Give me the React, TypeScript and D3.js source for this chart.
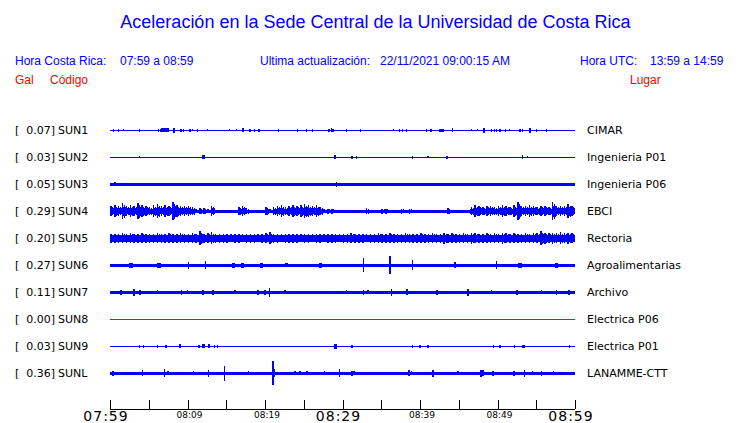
import React from "react";
import * as d3 from "d3";

// ---------- data ----------
const codes = ["SUN1", "SUN2", "SUN3", "SUN4", "SUN5", "SUN6", "SUN7", "SUN8", "SUN9", "SUNL"];
const maxGal = [0.07, 0.03, 0.05, 0.29, 0.2, 0.27, 0.11, 0.0, 0.03, 0.36];
const places = [
  "CIMAR", "Ingenieria P01", "Ingenieria P06", "EBCI", "Rectoria",
  "Agroalimentarias", "Archivo", "Electrica P06", "Electrica P01", "LANAMME-CTT",
];
// base noise half-amplitude (gal)
const baseGal = [0.015, 0.015, 0.042, 0.05, 0.11, 0.05, 0.046, 0.015, 0.015, 0.05];
const traceColor = ["#0000ff", "#0000ff", "#0000ff", "#0000ff", "#0000ff", "#0000ff", "#0000ff", "#ff0000", "#0000ff", "#0000ff"];

const tickMinutes = [0, 5, 10, 15, 20, 25, 30, 35, 40, 45, 50, 55, 60];
const tickLabels = ["07:59", "08:09", "08:19", "08:29", "08:39", "08:49", "08:59"];
const labelMinutes = [0, 10, 20, 30, 40, 50, 60];
const bigLabels = ["07:59", "08:29", "08:59"];

// half-minute peak amplitudes (gal) for the continuously noisy stations
const sun4Samples = [
  0.15, 0.18, 0.15, 0.24, 0.15, 0.18, 0.15, 0.24, 0.18, 0.15, 0.12, 0.18, 0.21, 0.15, 0.18, 0.15, 0.27, 0.18, 0.15, 0.15, 0.15, 0.12,
  0.06, 0.09, 0.09, 0.06, 0.15, 0.05,
  0.05, 0.05, 0.05, 0.05, 0.05,
  0.12, 0.15, 0.09,
  0.05, 0.05, 0.05, 0.05,
  0.12, 0.06,
  0.12, 0.15, 0.18, 0.12, 0.15, 0.18, 0.15, 0.18, 0.21, 0.18, 0.15, 0.18, 0.12, 0.06,
  0.08, 0.08,
  0.05, 0.05, 0.05, 0.05, 0.05, 0.05, 0.05, 0.05, 0.09, 0.05, 0.05, 0.05, 0.08, 0.08, 0.05, 0.05, 0.05, 0.08, 0.05, 0.08,
  0.05, 0.05, 0.05, 0.05, 0.05, 0.05, 0.05, 0.05, 0.05, 0.09, 0.05, 0.05, 0.05, 0.05, 0.05,
  0.12, 0.18, 0.15, 0.12, 0.15, 0.15, 0.12, 0.15, 0.18, 0.15, 0.12, 0.18, 0.27, 0.15, 0.15, 0.18, 0.15, 0.12, 0.15, 0.15, 0.12, 0.27, 0.15, 0.15, 0.15, 0.21, 0.15,
];
const sun5Samples = [
  0.13, 0.14, 0.13, 0.15, 0.14, 0.15, 0.13, 0.14, 0.15, 0.13,
  0.14, 0.13, 0.15, 0.14, 0.13, 0.15, 0.14, 0.13, 0.15, 0.14,
  0.13, 0.15, 0.14, 0.21, 0.14, 0.15, 0.18, 0.14, 0.13, 0.14,
  0.13, 0.12, 0.14, 0.13, 0.12, 0.14, 0.13, 0.14, 0.12, 0.13,
  0.15, 0.18, 0.14, 0.13, 0.12, 0.14, 0.13, 0.14, 0.13, 0.12,
  0.14, 0.13, 0.12, 0.14, 0.13, 0.12, 0.13, 0.14, 0.13, 0.12,
  0.13, 0.14, 0.15, 0.13, 0.14, 0.13, 0.12, 0.14, 0.13, 0.15,
  0.14, 0.13, 0.15, 0.14, 0.13, 0.14, 0.15, 0.13, 0.14, 0.13,
  0.15, 0.14, 0.13, 0.15, 0.14, 0.13, 0.16, 0.14, 0.15, 0.14,
  0.13, 0.15, 0.14, 0.16, 0.15, 0.14, 0.13, 0.15, 0.14, 0.15,
  0.14, 0.17, 0.15, 0.14, 0.15, 0.14, 0.13, 0.15, 0.14, 0.15,
  0.15, 0.21, 0.16, 0.15, 0.16, 0.15, 0.18, 0.15, 0.16, 0.15,
];

// discrete bursts: [minute, half-amplitude gal, duration minutes]
const sun1Events = [
  [0.43, 0.04], [1.08, 0.04], [1.72, 0.03], [3.78, 0.04], [6.24, 0.04], [6.54, 0.04], [6.67, 0.06, 1.07], [8.26, 0.07],
  [9.16, 0.05], [9.46, 0.04], [10.32, 0.04], [10.62, 0.03], [11.31, 0.05], [12.56, 0.03], [15.4, 0.03], [16.34, 0.03],
  [17.12, 0.06, 0.3], [18.06, 0.05], [18.63, 0.04], [19.23, 0.04], [21.72, 0.04], [24.17, 0.04], [25.33, 0.04], [26.1, 0.04],
  [28.17, 0.05, 0.3], [28.6, 0.06], [28.8, 0.04], [30.54, 0.04], [32.34, 0.04], [36.56, 0.03], [37.33, 0.04], [37.72, 0.04],
  [38.28, 0.04], [40.86, 0.05], [41.42, 0.04], [42.58, 0.05, 0.65], [44.17, 0.06], [46.67, 0.03], [47.4, 0.03], [48.26, 0.07],
  [49.25, 0.04], [49.59, 0.05], [49.89, 0.04], [50.3, 0.05, 0.2], [51.05, 0.04], [51.53, 0.03], [52.9, 0.04], [53.25, 0.04],
  [54.19, 0.07], [55.05, 0.04], [56.34, 0.04],
];
const sun2Events = [
  [3.78, 0.03], [12.0, 0.06, 0.3], [29.0, 0.06, 0.3], [31.2, 0.05], [31.8, 0.05], [39.0, 0.04], [41.0, 0.03],
  [43.5, 0.05], [53.2, 0.06, 0.25], [53.9, 0.03],
];
const sun3Events = [
  [0.65, 0.06], [8.2, 0.05], [14.2, 0.05], [15.7, 0.05], [29.2, 0.07], [31.2, 0.05], [33.3, 0.05], [36.1, 0.05],
  [38.3, 0.05], [40.0, 0.05], [46.2, 0.05], [48.2, 0.05], [59.4, 0.05],
];
const sun6Events = [
  [2.5, 0.07, 0.5], [6.2, 0.07, 0.5], [10.1, 0.11], [12.3, 0.12], [15.8, 0.07, 0.4], [17.0, 0.07, 0.4], [19.4, 0.08, 0.5],
  [22.7, 0.06, 0.4], [27.1, 0.08, 0.3], [32.7, 0.21], [36.1, 0.27], [39.0, 0.15], [44.5, 0.09], [49.9, 0.12],
  [52.8, 0.07, 0.4], [57.5, 0.07, 0.4],
];
const sun7Events = [
  [1.4, 0.075], [3.1, 0.105], [3.9, 0.075], [6.1, 0.06], [9.2, 0.075], [10.0, 0.06], [12.0, 0.075], [13.3, 0.075],
  [16.1, 0.06], [19.1, 0.075], [20.0, 0.075], [20.6, 0.14], [22.6, 0.06], [30.5, 0.06], [32.7, 0.075], [33.3, 0.06],
  [36.3, 0.105], [38.3, 0.09], [42.2, 0.075], [46.2, 0.105], [49.2, 0.06], [52.5, 0.075], [55.7, 0.06], [57.6, 0.075],
  [59.2, 0.075],
];
const sun8Events: number[][] = [];
const sun9Events = [
  [3.8, 0.045], [4.3, 0.045], [6.1, 0.045], [7.2, 0.045], [9.0, 0.06, 0.3], [11.5, 0.045], [12.0, 0.06, 0.3],
  [12.7, 0.06, 0.3], [13.5, 0.045], [13.9, 0.045], [29.0, 0.07, 0.4], [31.2, 0.045], [39.0, 0.045], [40.0, 0.045],
  [41.0, 0.045], [49.5, 0.04], [50.3, 0.045], [52.2, 0.04], [53.3, 0.045, 0.3], [59.3, 0.045],
];
const sunLEvents = [
  [0.4, 0.075], [4.2, 0.09], [7.0, 0.12], [7.5, 0.06], [10.8, 0.06], [12.7, 0.105], [14.8, 0.23], [17.9, 0.06],
  [21.0, 0.36], [21.2, 0.12], [23.9, 0.06], [24.5, 0.06], [25.4, 0.06], [27.7, 0.06], [29.6, 0.12], [31.2, 0.075],
  [31.5, 0.06], [38.6, 0.09], [38.9, 0.06], [41.7, 0.105], [44.9, 0.06], [47.9, 0.105], [48.1, 0.09], [49.4, 0.075],
  [52.1, 0.075], [53.5, 0.105], [54.5, 0.06], [55.7, 0.075], [57.2, 0.06],
];

const eventsByStation = [sun1Events, sun2Events, sun3Events, [], [], sun6Events, sun7Events, sun8Events, sun9Events, sunLEvents];
const samplesByStation: (number[] | null)[] = [null, null, null, sun4Samples, sun5Samples, null, null, null, null, null];

// ---------- layout ----------
const W = 740, H = 423;
const x = d3.scaleLinear().domain([0, 60]).range([110, 575]);
const y = d3.scalePoint<string>().domain(codes).range([130.3, 373.3]);
const amp = d3.scaleLinear().domain([0, 0.36]).range([0, 12]);

const BLUE = "#0000ff";
const RED = "#ff0000";
const SANS = "'Liberation Sans', Arial, sans-serif";
const DEJA = "'DejaVu Sans', sans-serif";

function Trace({ i }: { i: number }) {
  const cy = y(codes[i]) as number;
  const col = traceColor[i];
  const bh = Math.max(0.5, amp(baseGal[i]));
  const samples = samplesByStation[i];
  const events = eventsByStation[i] as number[][];
  const parts: React.ReactNode[] = [];
  parts.push(
    <rect key="base" x={x(0)} y={cy - bh} width={x(60) - x(0)} height={bh * 2} fill={col} />
  );
  if (samples) {
    const pts = samples.map((v, k) => [k * 0.5, Math.max(bh, amp(v) * 0.6)] as [number, number]);
    pts.push([60, pts[pts.length - 1][1]]);
    const area = d3
      .area<[number, number]>()
      .x((d) => x(d[0]))
      .y0((d) => cy - d[1])
      .y1((d) => cy + d[1])
      .curve(d3.curveStepAfter);
    parts.push(<path key="core" d={area(pts) || ""} fill={col} />);
    samples.forEach((v, k) => {
      const h = amp(v);
      parts.push(
        <rect key={"s" + k} x={x(k * 0.5 + 0.12) - 0.75} y={cy - h} width={1.5} height={h * 2} fill={col} />
      );
      const h2 = amp(v) * 0.8;
      parts.push(
        <rect key={"t" + k} x={x(k * 0.5 + 0.37) - 0.5} y={cy - h2} width={1} height={h2 * 2} fill={col} />
      );
    });
  }
  events.forEach((e, k) => {
    const h = amp(e[1]);
    const w = Math.max(1.5, e[2] ? x(e[2]) - x(0) : 0);
    parts.push(<rect key={"e" + k} x={x(e[0]) - 0.75} y={cy - h} width={w} height={h * 2} fill={col} />);
  });
  return <g shapeRendering="crispEdges">{parts}</g>;
}

export default function App() {
  const axisY = 409;
  return (
    <svg
      width={W}
      height={H}
      viewBox={`0 0 ${W} ${H}`}
      style={{ position: "absolute", left: 0, top: 0, background: "#fff" }}
    >
      <rect width={W} height={H} fill="#fff" />
      <text x={375.5} y={28} textAnchor="middle" fontFamily={SANS} fontSize={18} fill={BLUE}>
        Aceleración en la Sede Central de la Universidad de Costa Rica
      </text>
      <g fontFamily={SANS} fontSize={12} fill={BLUE}>
        <text x={15} y={65}>Hora Costa Rica:</text>
        <text x={120} y={65}>07:59 a 08:59</text>
        <text x={260} y={65}>Ultima actualización:</text>
        <text x={380} y={65}>22/11/2021 09:00:15 AM</text>
        <text x={580} y={65}>Hora UTC:</text>
        <text x={650} y={65}>13:59 a 14:59</text>
      </g>
      <g fontFamily={SANS} fontSize={12} fill={RED}>
        <text x={15} y={84}>Gal</text>
        <text x={50} y={84}>Código</text>
        <text x={630} y={84}>Lugar</text>
      </g>
      <g fontFamily={DEJA} fontSize={11} fill="#000">
        {codes.map((c, i) => {
          const cy = y(c) as number;
          return (
            <g key={c}>
              <text x={15} y={cy + 4}>[</text>
              <text x={55} y={cy + 4} textAnchor="end">{maxGal[i].toFixed(2) + "]"}</text>
              <text x={58} y={cy + 4}>{c}</text>
              <text x={587} y={cy + 4}>{places[i]}</text>
            </g>
          );
        })}
      </g>
      {codes.map((c, i) => (
        <Trace key={c} i={i} />
      ))}
      <g shapeRendering="crispEdges" stroke="#000" strokeWidth={1}>
        <line x1={x(0)} x2={x(60)} y1={axisY + 0.5} y2={axisY + 0.5} />
        {tickMinutes.map((m) => (
          <line key={m} x1={Math.round(x(m)) + 0.5} x2={Math.round(x(m)) + 0.5} y1={axisY - 9} y2={axisY} />
        ))}
      </g>
      <g fontFamily={DEJA} fill="#000" textAnchor="middle">
        {labelMinutes.map((m, k) => {
          const big = bigLabels.includes(tickLabels[k]);
          return (
            <text
              key={m}
              x={x(m) - (big ? 4 : -2)}
              y={big ? 421 : 418}
              fontSize={big ? 14 : 9}
              letterSpacing={big ? 1 : 0}
            >
              {tickLabels[k]}
            </text>
          );
        })}
      </g>
    </svg>
  );
}
